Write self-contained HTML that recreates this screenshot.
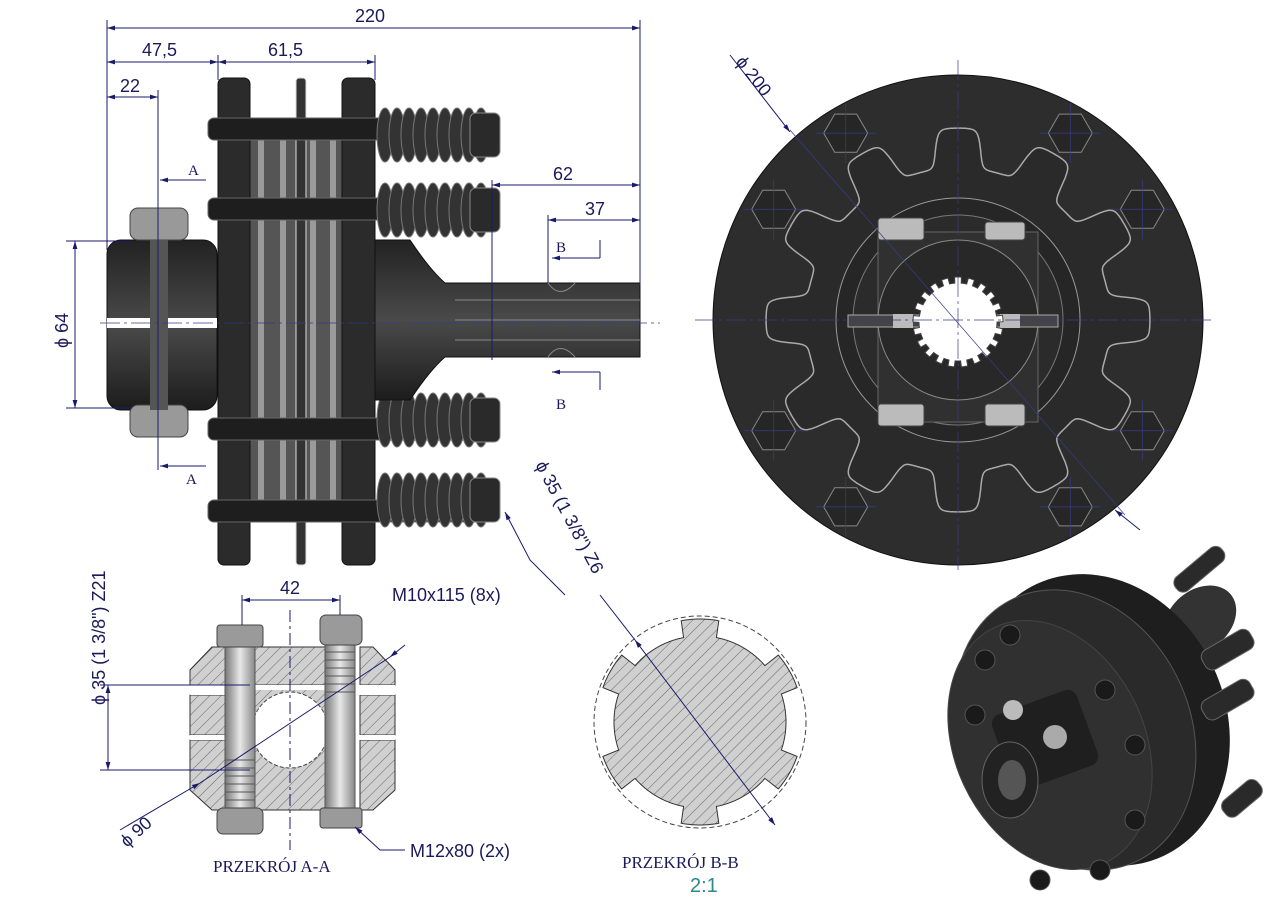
<!DOCTYPE html>
<html><head><meta charset="utf-8"><style>
body{margin:0;background:#fff;width:1280px;height:905px;overflow:hidden}
svg text{font-family:"Liberation Sans",sans-serif;fill:#1a1a5a}
.d{stroke:#1a1a6a;stroke-width:1;fill:none}
.c{stroke:#3a3a8a;stroke-width:0.7;fill:none}
.dk{fill:#2b2b2b;stroke:#111;stroke-width:1}
.sr{font-family:"Liberation Serif",serif!important}
</style></head><body>
<svg id="s" width="1280" height="905" viewBox="0 0 1280 905" xmlns="http://www.w3.org/2000/svg">
<defs>
<marker id="a" viewBox="0 0 10 10" refX="10" refY="5" markerWidth="10" markerHeight="8" orient="auto-start-reverse"><path d="M0,2 L10,5 L0,8z" fill="#1a1a6a"/></marker>
<linearGradient id="gv" x1="0" y1="0" x2="0" y2="1"><stop offset="0" stop-color="#222"/><stop offset=".5" stop-color="#4a4a4a"/><stop offset="1" stop-color="#1c1c1c"/></linearGradient>
<linearGradient id="bolt" x1="0" y1="0" x2="1" y2="0"><stop offset="0" stop-color="#777"/><stop offset=".5" stop-color="#e8e8e8"/><stop offset="1" stop-color="#888"/></linearGradient>
<pattern id="h" width="8" height="8" patternUnits="userSpaceOnUse" patternTransform="rotate(45)"><rect width="8" height="8" fill="#d0d0d0"/><line x1="0" y1="0" x2="0" y2="8" stroke="#666" stroke-width="1"/></pattern>
</defs>

<!-- SIDE VIEW -->
<rect x="107" y="240" width="110" height="170" rx="14" fill="url(#gv)" stroke="#111"/>
<rect x="107" y="318" width="110" height="10" fill="#fff"/>
<rect x="130" y="208" width="58" height="32" rx="8" fill="#999" stroke="#444"/>
<rect x="130" y="405" width="58" height="32" rx="8" fill="#999" stroke="#444"/>
<rect x="150" y="240" width="18" height="170" fill="#555"/>
<rect x="250" y="130" width="92" height="390" fill="#555"/>
<g fill="#9a9a9a"><rect x="258" y="130" width="6" height="390"/><rect x="280" y="130" width="6" height="390"/><rect x="310" y="130" width="6" height="390"/><rect x="330" y="130" width="6" height="390"/></g>
<rect x="218" y="78" width="32" height="487" rx="6" class="dk"/>
<rect x="296" y="78" width="10" height="487" rx="3" fill="#333" stroke="#ddd" stroke-width="1"/>
<rect x="342" y="78" width="33" height="487" rx="6" class="dk"/>
<g fill="#1e1e1e" stroke="#666">
<rect x="208" y="118" width="290" height="22" rx="6"/><rect x="208" y="198" width="290" height="22" rx="6"/>
<rect x="208" y="418" width="290" height="22" rx="6"/><rect x="208" y="500" width="290" height="22" rx="6"/>
</g>
<g id="spr"></g>
<path d="M375,240 L410,240 Q430,270 445,283 L640,283 L640,357 L445,357 Q430,370 410,400 L375,400z" fill="url(#gv)" stroke="#111"/>
<path d="M548,283 Q560,300 575,283 M548,357 Q560,340 575,357" stroke="#888" fill="none"/>
<g stroke="#888"><line x1="455" y1="300" x2="640" y2="300"/><line x1="455" y1="320" x2="640" y2="320"/><line x1="455" y1="340" x2="640" y2="340"/></g>
<line x1="100" y1="323" x2="660" y2="323" class="c" stroke-dasharray="20 4 3 4"/>

<!-- dims side -->
<g class="d">
<line x1="107" y1="20" x2="107" y2="250"/><line x1="640" y1="20" x2="640" y2="285"/>
<line x1="107" y1="28" x2="640" y2="28" marker-start="url(#a)" marker-end="url(#a)"/>
<line x1="218" y1="55" x2="218" y2="80"/><line x1="375" y1="55" x2="375" y2="80"/>
<line x1="107" y1="62" x2="218" y2="62" marker-start="url(#a)" marker-end="url(#a)"/>
<line x1="218" y1="62" x2="375" y2="62" marker-start="url(#a)" marker-end="url(#a)"/>
<line x1="158" y1="90" x2="158" y2="470"/>
<line x1="107" y1="97" x2="158" y2="97" marker-start="url(#a)" marker-end="url(#a)"/>
<line x1="492" y1="180" x2="492" y2="360"/><line x1="548" y1="215" x2="548" y2="283"/>
<line x1="492" y1="185" x2="640" y2="185" marker-start="url(#a)" marker-end="url(#a)"/>
<line x1="548" y1="220" x2="640" y2="220" marker-start="url(#a)" marker-end="url(#a)"/>
<line x1="66" y1="241" x2="130" y2="241"/><line x1="66" y1="408" x2="130" y2="408"/>
<line x1="75" y1="241" x2="75" y2="408" marker-start="url(#a)" marker-end="url(#a)"/>
<line x1="206" y1="180" x2="160" y2="180" marker-end="url(#a)"/>
<line x1="206" y1="466" x2="160" y2="466" marker-end="url(#a)"/>
<line x1="600" y1="240" x2="600" y2="258"/><line x1="552" y1="258" x2="600" y2="258" marker-start="url(#a)"/>
<line x1="600" y1="372" x2="600" y2="390"/><line x1="552" y1="372" x2="600" y2="372" marker-start="url(#a)"/>
<polyline points="565,595 530,560 505,512" marker-end="url(#a)"/>
</g>
<text x="355" y="22" font-size="18">220</text>
<text x="142" y="56" font-size="18">47,5</text>
<text x="268" y="56" font-size="18">61,5</text>
<text x="120" y="92" font-size="18">22</text>
<text x="553" y="180" font-size="18">62</text>
<text x="585" y="215" font-size="18">37</text>
<text x="188" y="175" font-size="15" class="sr">A</text>
<text x="186" y="484" font-size="15" class="sr">A</text>
<text x="556" y="252" font-size="15" class="sr">B</text>
<text x="556" y="409" font-size="15" class="sr">B</text>
<text transform="translate(68,348) rotate(-90)" font-size="18">ϕ 64</text>
<text x="392" y="601" font-size="18">M10x115 (8x)</text>
<text transform="translate(105,705) rotate(-90)" font-size="18">ϕ 35  (1 3/8") Z21</text>
<text transform="translate(535,465) rotate(62)" font-size="18">ϕ 35  (1 3/8") Z6</text>

<!-- FRONT VIEW -->
<circle cx="958" cy="320" r="245" fill="#2d2d2d" stroke="#111"/>
<path id="gear" fill="#2a2a2a" stroke="#aaa" stroke-width="1.5"/>
<circle cx="958" cy="320" r="122" fill="#262626" stroke="#999"/>
<circle cx="958" cy="320" r="105" fill="#2b2b2b" stroke="#777"/>
<rect x="878" y="232" width="160" height="190" fill="#303030" stroke="#666"/>
<circle cx="958" cy="320" r="80" fill="#282828" stroke="#888"/>
<rect x="848" y="315" width="210" height="12" fill="#444" stroke="#aaa"/>
<rect x="893" y="314" width="20" height="14" fill="#bbb"/><rect x="1000" y="314" width="20" height="14" fill="#bbb"/>
<g fill="#bbb" stroke="#444"><rect x="878" y="218" width="46" height="22" rx="3"/><rect x="985" y="222" width="40" height="18" rx="3"/><rect x="878" y="404" width="46" height="22" rx="3"/><rect x="985" y="404" width="40" height="22" rx="3"/></g>
<path id="bore" fill="#fff" stroke="#444"/>
<g id="fb"></g>
<g class="c">
<line x1="958" y1="60" x2="958" y2="570" stroke-dasharray="20 4 3 4"/>
<line x1="695" y1="320" x2="1215" y2="320" stroke-dasharray="20 4 3 4"/>
<line x1="790" y1="130" x2="1125" y2="515"/>
</g>
<line x1="730" y1="55" x2="790" y2="132" class="d" marker-end="url(#a)"/>
<line x1="1140" y1="530" x2="1115" y2="510" class="d" marker-end="url(#a)"/>
<text transform="translate(735,62) rotate(52)" font-size="18">ϕ 200</text>

<!-- SECTION A-A -->
<path d="M212,647 L245,647 L245,685 L190,685 L190,670z M255,647 L325,647 L325,685 L255,685z M360,647 L373,647 L395,670 L395,685 L360,685z" fill="url(#h)" stroke="#333"/>
<path d="M190,695 L250,695 L250,735 L190,735z M360,695 L395,695 L395,735 L360,735z" fill="url(#h)" stroke="#333"/>
<path d="M190,740 L250,740 L250,810 L212,810 L190,790z M255,740 L325,740 L325,810 L255,810z M360,740 L395,740 L395,790 L373,810 L360,810z" fill="url(#h)" stroke="#333"/>
<path d="M190,685 h205 v10 h-205z M190,735 h205 v5 h-205z" fill="#fff"/>
<rect x="250" y="647" width="5" height="163" fill="url(#h)"/>
<rect x="250" y="690" width="75" height="80" fill="url(#h)"/>
<circle cx="290" cy="730" r="38" fill="#fff" stroke="#444" stroke-dasharray="4 2"/>
<rect x="225" y="645" width="30" height="165" fill="url(#bolt)" stroke="#555"/>
<rect x="325" y="645" width="30" height="165" fill="url(#bolt)" stroke="#555"/>
<g fill="none" stroke="#555"><path d="M225,760 h30 M225,768 h30 M225,776 h30 M225,784 h30 M225,792 h30 M225,800 h30"/><path d="M325,652 h30 M325,660 h30 M325,668 h30 M325,676 h30 M325,684 h30 M325,692 h30"/></g>
<rect x="217" y="625" width="46" height="22" rx="3" fill="#9a9a9a" stroke="#444"/>
<rect x="217" y="808" width="46" height="26" rx="6" fill="#9a9a9a" stroke="#444"/>
<rect x="320" y="615" width="42" height="30" rx="6" fill="#9a9a9a" stroke="#444"/>
<rect x="320" y="808" width="42" height="20" rx="3" fill="#9a9a9a" stroke="#444"/>
<g class="d">
<line x1="242" y1="595" x2="242" y2="625"/><line x1="340" y1="595" x2="340" y2="615"/>
<line x1="242" y1="600" x2="340" y2="600" marker-start="url(#a)" marker-end="url(#a)"/>
<line x1="100" y1="685" x2="250" y2="685"/><line x1="100" y1="770" x2="250" y2="770"/>
<line x1="108" y1="685" x2="108" y2="770" marker-start="url(#a)" marker-end="url(#a)"/>
<line x1="120" y1="830" x2="200" y2="783" marker-end="url(#a)"/>
<line x1="200" y1="783" x2="390" y2="657"/><line x1="390" y1="657" x2="405" y2="645" marker-start="url(#a)"/>
<polyline points="405,850 380,850 355,827" marker-end="url(#a)"/>
<line x1="290" y1="610" x2="290" y2="850" stroke-dasharray="12 4 3 4"/>
</g>
<text x="280" y="594" font-size="18">42</text>
<text transform="translate(127,848) rotate(-42)" font-size="18">ϕ 90</text>
<text x="410" y="857" font-size="18">M12x80 (2x)</text>
<text x="213" y="872" font-size="17" class="sr">PRZEKRÓJ A-A</text>

<!-- SECTION B-B -->
<circle cx="700" cy="722" r="106" fill="none" stroke="#444" stroke-dasharray="5 3"/>
<path id="bb" fill="url(#h)" stroke="#333"/>
<line x1="635" y1="640" x2="775" y2="825" class="d" marker-start="url(#a)" marker-end="url(#a)"/>
<line x1="600" y1="595" x2="635" y2="640" class="d"/>
<text x="622" y="868" font-size="17" class="sr">PRZEKRÓJ B-B</text>
<text x="690" y="892" font-size="20" style="fill:#2a8a8a">2:1</text>

<!-- ISO VIEW -->
<g id="iso">
<ellipse cx="1200" cy="620" rx="40" ry="30" fill="#333" transform="rotate(-40 1200 620)"/>
<ellipse cx="1100" cy="720" rx="125" ry="150" fill="#1e1e1e" transform="rotate(-25 1100 720)"/>
<ellipse cx="1075" cy="730" rx="115" ry="145" fill="#2a2a2a" stroke="#555" transform="rotate(-25 1075 730)"/>
<ellipse cx="1050" cy="745" rx="95" ry="130" fill="#303030" stroke="#444" transform="rotate(-25 1050 745)"/>
<rect x="1000" y="700" width="90" height="80" rx="10" fill="#1f1f1f" transform="rotate(-20 1045 740)"/>
<ellipse cx="1010" cy="780" rx="28" ry="38" fill="#222" stroke="#666"/>
<ellipse cx="1012" cy="780" rx="14" ry="20" fill="#555"/>
<circle cx="1013" cy="710" r="10" fill="#bbb"/><circle cx="1055" cy="737" r="12" fill="#aaa"/>
<g fill="#1a1a1a" stroke="#555"><circle cx="985" cy="660" r="10"/><circle cx="1010" cy="635" r="10"/><circle cx="975" cy="715" r="10"/><circle cx="1105" cy="690" r="10"/><circle cx="1135" cy="745" r="10"/><circle cx="1135" cy="820" r="10"/><circle cx="1100" cy="870" r="10"/><circle cx="1040" cy="880" r="10"/></g>
<g fill="#2a2a2a" stroke="#666"><rect x="1170" y="560" width="60" height="18" rx="8" transform="rotate(-40 1200 570)"/><rect x="1200" y="640" width="55" height="22" rx="8" transform="rotate(-30 1225 650)"/><rect x="1200" y="690" width="55" height="22" rx="8" transform="rotate(-30 1225 700)"/><rect x="1220" y="790" width="45" height="20" rx="8" transform="rotate(-40 1240 800)"/></g>
</g>
</svg>
<script>
function P(cx,cy,f,n){let d='';for(let i=0;i<=n;i++){let t=i/n*2*Math.PI,r=f(t);d+=(i?'L':'M')+(cx+r*Math.sin(t)).toFixed(1)+','+(cy-r*Math.cos(t)).toFixed(1);}return d+'Z';}
document.getElementById('gear').setAttribute('d',P(958,320,t=>172+20*Math.tanh(3*Math.cos(12*t)),720));
document.getElementById('bore').setAttribute('d',P(958,322,t=>42+3*Math.sign(Math.cos(21*t)),840));
document.getElementById('bb').setAttribute('d',P(700,722,t=>Math.cos(6*t)>0.45?103:86,720));
let fb='';[[-31,218],[31,218],[-59,215],[59,215],[-121,215],[121,215],[-149,218],[149,218]].forEach(([a,r])=>{let x=958+r*Math.sin(a*Math.PI/180),y=320-r*Math.cos(a*Math.PI/180);let p='';for(let k=0;k<6;k++){let q=k*Math.PI/3;p+=(x+22*Math.cos(q)).toFixed(1)+','+(y+22*Math.sin(q)).toFixed(1)+' ';}fb+='<polygon points="'+p+'" fill="#262626" stroke="#888"/><line x1="'+(x-30)+'" y1="'+y+'" x2="'+(x+30)+'" y2="'+y+'" stroke="#3a3a8a" stroke-width=".7"/><line x1="'+x+'" y1="'+(y-30)+'" x2="'+x+'" y2="'+(y+30)+'" stroke="#3a3a8a" stroke-width=".7"/>';});
document.getElementById('fb').innerHTML=fb;
let s='';[110,185,395,475].forEach(y=>{for(let i=0;i<9;i++){s+='<ellipse cx="'+(385+i*12)+'" cy="'+(y+25)+'" rx="8" ry="27" fill="#333" stroke="#777"/>';}s+='<rect x="470" y="'+(y+3)+'" width="30" height="44" rx="6" fill="#2a2a2a" stroke="#888"/>';});
document.getElementById('spr').innerHTML=s;
</script>
</body></html>
